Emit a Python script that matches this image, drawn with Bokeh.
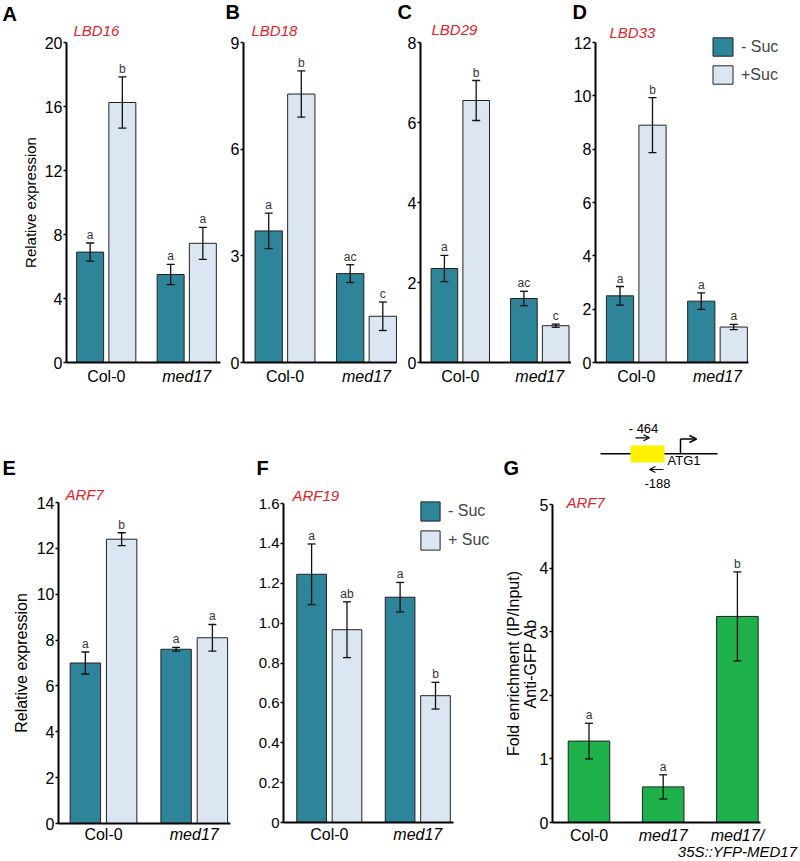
from bokeh.plotting import figure
from bokeh.layouts import row, column
from bokeh.models import (Range1d, FixedTicker, Label, Legend, LegendItem, Whisker,
                          ColumnDataSource, TeeHead, Arrow, OpenHead, PrintfTickFormatter)
from bokeh.embed import file_html
from bokeh.resources import INLINE
from bokeh.core.properties import value

FONT = "Liberation Sans"
DARK = "#2E8498"
LIGHT = "#DCE6F2"
GREEN = "#1DB04B"
RED = "#E3222B"
EDGE = "#222222"

genotypes = ["Col-0", "med17"]
genotypes_chip = ["Col-0", "med17", "med17/"]
chip_sub = "35S::YFP-MED17"
legend_labels_D = ["- Suc", "+Suc"]
legend_labels_F = ["- Suc", "+ Suc"]

# A  LBD16
lbd16_minus = [6.9, 5.5]
lbd16_minus_err = [0.57, 0.63]
lbd16_plus = [16.25, 7.45]
lbd16_plus_err = [1.6, 1.0]
lbd16_sig_minus = ["a", "a"]
lbd16_sig_plus = ["b", "a"]

# B  LBD18
lbd18_minus = [3.7, 2.5]
lbd18_minus_err = [0.5, 0.25]
lbd18_plus = [7.55, 1.3]
lbd18_plus_err = [0.65, 0.4]
lbd18_sig_minus = ["a", "ac"]
lbd18_sig_plus = ["b", "c"]

# C  LBD29
lbd29_minus = [2.35, 1.6]
lbd29_minus_err = [0.33, 0.18]
lbd29_plus = [6.55, 0.92]
lbd29_plus_err = [0.5, 0.04]
lbd29_sig_minus = ["a", "ac"]
lbd29_sig_plus = ["b", "c"]

# D  LBD33
lbd33_minus = [2.5, 2.3]
lbd33_minus_err = [0.35, 0.31]
lbd33_plus = [8.9, 1.33]
lbd33_plus_err = [1.03, 0.1]
lbd33_sig_minus = ["a", "a"]
lbd33_sig_plus = ["b", "a"]

# E  ARF7
arf7_minus = [7.0, 7.6]
arf7_minus_err = [0.48, 0.08]
arf7_plus = [12.4, 8.1]
arf7_plus_err = [0.28, 0.58]
arf7_sig_minus = ["a", "a"]
arf7_sig_plus = ["b", "a"]

# F  ARF19
arf19_minus = [1.245, 1.13]
arf19_minus_err = [0.152, 0.074]
arf19_plus = [0.967, 0.636]
arf19_plus_err = [0.14, 0.067]
arf19_sig_minus = ["a", "a"]
arf19_sig_plus = ["ab", "b"]

# G  ChIP ARF7
chip_vals = [1.28, 0.56, 3.24]
chip_err = [0.28, 0.19, 0.7]
chip_sig = ["a", "a", "b"]

ticks_A = [0, 4, 8, 12, 16, 20]
ticks_B = [0, 3, 6, 9]
ticks_C = [0, 2, 4, 6, 8]
ticks_D = [0, 2, 4, 6, 8, 10, 12]
ticks_E = [0, 2, 4, 6, 8, 10, 12, 14]
ticks_F = [0, 0.2, 0.4, 0.6, 0.8, 1.0, 1.2, 1.4, 1.6]
ticks_G = [0, 1, 2, 3, 4, 5]


class Panel:
    """A figure whose frame fills its canvas; axes are drawn at fixed locations."""

    def __init__(self, fx, fy, fw, fh, axis_px, axis_end_px, g0_px, pitch,
                 y0_px, ytop_px, ymax, yticks, ylabel=None, label_size="15px",
                 label_standoff=3, tick_size="16px", fmt=None, label_line_height=1.2):
        self.fx, self.fy, self.fw, self.fh = fx, fy, fw, fh
        ppu = (y0_px - ytop_px) / ymax
        xs = (fx - g0_px) / pitch
        xe = (fx + fw - g0_px) / pitch
        ys = -(fy + fh - y0_px) / ppu
        ye = ymax + (ytop_px - fy) / ppu
        p = figure(width=fw, height=fh, x_range=Range1d(xs, xe), y_range=Range1d(ys, ye),
                   toolbar_location=None, output_backend="svg", min_border=0)
        p.min_border_left = p.min_border_right = p.min_border_top = p.min_border_bottom = 0
        p.outline_line_color = None
        p.xgrid.visible = False
        p.ygrid.visible = False
        ax_x = (axis_px - g0_px) / pitch
        ax_end = (axis_end_px - g0_px) / pitch
        ya = p.yaxis[0]
        ya.fixed_location = ax_x
        ya.bounds = (0, ymax)
        ya.ticker = FixedTicker(ticks=yticks)
        if fmt:
            ya.formatter = PrintfTickFormatter(format=fmt)
        ya.axis_line_width = 2
        ya.axis_line_color = "black"
        ya.major_tick_out = 3
        ya.major_tick_in = 0
        ya.major_tick_line_width = 1.5
        ya.minor_tick_line_color = None
        ya.major_label_standoff = 1
        ya.major_label_text_font = FONT
        ya.major_label_text_font_size = tick_size
        ya.major_label_text_color = "black"
        ya.major_label_overrides = {0: "0"}
        if ylabel:
            ya.axis_label = ylabel
            ya.axis_label_text_font = FONT
            ya.axis_label_text_font_size = label_size
            ya.axis_label_text_font_style = "normal"
            ya.axis_label_text_color = "black"
            ya.axis_label_standoff = label_standoff
            ya.axis_label_text_line_height = label_line_height
        xa = p.xaxis[0]
        xa.fixed_location = 0
        xa.bounds = (ax_x, ax_end)
        xa.ticker = FixedTicker(ticks=[])
        xa.axis_line_width = 2
        xa.axis_line_color = "black"
        xa.major_tick_line_color = None
        xa.minor_tick_line_color = None
        xa.major_label_text_font_size = "0px"
        self.p = p

    def text(self, text, X, Y, size="16px", color="black", style="normal", align="left"):
        self.p.add_layout(Label(x=X - self.fx, y=self.fy + self.fh - Y, x_units="screen",
                                y_units="screen", text=text, text_font=FONT,
                                text_font_size=size, text_color=color, text_font_style=style,
                                text_align=align, text_baseline="middle"))

    def cat_text(self, text, i, Y, size="16px", style="normal"):
        self.p.add_layout(Label(x=i, y=self.fy + self.fh - Y, x_units="data", y_units="screen",
                                text=text, text_font=FONT, text_font_size=size,
                                text_color="black", text_font_style=style,
                                text_align="center", text_baseline="middle"))

    def err(self, xs, vals, errs, sigs):
        up = [v + e for v, e in zip(vals, errs)]
        lo = [v - e for v, e in zip(vals, errs)]
        src = ColumnDataSource(dict(x=xs, upper=up, lower=lo, sig=sigs))
        w = Whisker(source=src, base="x", upper="upper", lower="lower",
                    line_color="#111111", line_width=1.3, level="annotation",
                    upper_head=TeeHead(size=8, line_color="#111111", line_width=1.3),
                    lower_head=TeeHead(size=8, line_color="#111111", line_width=1.3))
        self.p.add_layout(w)
        self.p.text(x="x", y="upper", text="sig", source=src, text_align="center",
                    text_baseline="bottom", y_offset=-1, text_font=value(FONT),
                    text_font_size="12px", text_color="#333333")

    def expr_bars(self, minus, minus_err, plus, plus_err, sig_m, sig_p, label_y):
        xs_m = [i - 0.2 for i in range(len(genotypes))]
        xs_p = [i + 0.2 for i in range(len(genotypes))]
        self.r_m = self.p.vbar(x=xs_m, top=minus, width=0.335, fill_color=DARK,
                               line_color=EDGE, line_width=1)
        self.r_p = self.p.vbar(x=xs_p, top=plus, width=0.335, fill_color=LIGHT,
                               line_color=EDGE, line_width=1)
        self.err(xs_m, minus, minus_err, sig_m)
        self.err(xs_p, plus, plus_err, sig_p)
        for i, g in enumerate(genotypes):
            self.cat_text(g, i, label_y, style="italic" if g.startswith("med") else "normal")

    def legend(self, labels, X, Ybottom, gw, gh):
        leg = Legend(items=[LegendItem(label=labels[0], renderers=[self.r_m]),
                            LegendItem(label=labels[1], renderers=[self.r_p])],
                     location=(X - self.fx, self.fy + self.fh - Ybottom),
                     glyph_width=gw, glyph_height=gh, spacing=5, padding=0, margin=0,
                     border_line_color=None, background_fill_alpha=0,
                     label_text_font=FONT, label_text_font_size="16px", label_standoff=6)
        self.p.add_layout(leg)


# ---------------- top row (y 0..420) ----------------
A = Panel(0, 0, 223, 420, 66, 220, 105.75, 80.5, 362, 42, 20, ticks_A,
          ylabel="Relative expression", label_size="15px", label_standoff=3)
A.expr_bars(lbd16_minus, lbd16_minus_err, lbd16_plus, lbd16_plus_err,
            lbd16_sig_minus, lbd16_sig_plus, 376)
A.text("A", 2, 13, size="20px", style="bold")
A.text("LBD16", 73, 30, size="15px", color=RED, style="italic")

B = Panel(223, 0, 174, 420, 243, 396, 284.5, 81.5, 362, 42, 9, ticks_B)
B.expr_bars(lbd18_minus, lbd18_minus_err, lbd18_plus, lbd18_plus_err,
            lbd18_sig_minus, lbd18_sig_plus, 376)
B.text("B", 225, 11, size="20px", style="bold")
B.text("LBD18", 251, 30, size="15px", color=RED, style="italic")

C = Panel(397, 0, 174, 420, 420, 572, 459.8, 79.5, 362, 42, 8, ticks_C)
C.expr_bars(lbd29_minus, lbd29_minus_err, lbd29_plus, lbd29_plus_err,
            lbd29_sig_minus, lbd29_sig_plus, 376)
C.text("C", 397, 11, size="20px", style="bold")
C.text("LBD29", 431, 29, size="15px", color=RED, style="italic")

D = Panel(571, 0, 229, 420, 595, 748, 635.75, 81.25, 362, 42, 12, ticks_D)
D.expr_bars(lbd33_minus, lbd33_minus_err, lbd33_plus, lbd33_plus_err,
            lbd33_sig_minus, lbd33_sig_plus, 376)
D.text("D", 572, 11, size="20px", style="bold")
D.text("LBD33", 609, 32, size="15px", color=RED, style="italic")
D.legend(legend_labels_D, 710, 86, 25, 23)

# ---------------- bottom row (y 420..860) ----------------
E = Panel(0, 420, 250, 440, 58, 230, 103, 90.75, 823, 502, 14, ticks_E,
          ylabel="Relative expression", label_size="16px", label_standoff=4)
E.expr_bars(arf7_minus, arf7_minus_err, arf7_plus, arf7_plus_err,
            arf7_sig_minus, arf7_sig_plus, 834)
E.text("E", 2, 467, size="20px", style="bold")
E.text("ARF7", 65, 494, size="15px", color=RED, style="italic")

F = Panel(250, 420, 250, 440, 283, 453, 328.8, 88.5, 822, 503, 1.6, ticks_F,
          tick_size="15px", fmt="%.1f")
F.expr_bars(arf19_minus, arf19_minus_err, arf19_plus, arf19_plus_err,
            arf19_sig_minus, arf19_sig_plus, 834)
F.text("F", 256, 467, size="20px", style="bold")
F.text("ARF19", 292, 495, size="15px", color=RED, style="italic")
F.legend(legend_labels_F, 418, 552, 24, 24)

# G panel (ChIP), below the promoter schematic
G = Panel(500, 491, 300, 369, 552, 760, 588.5, 74.2, 822, 504, 5, ticks_G,
          ylabel="Fold enrichment (IP/Input)\nAnti-GFP Ab", label_size="16px",
          label_standoff=-2, label_line_height=1.0)
xs_g = list(range(len(genotypes_chip)))
G.p.vbar(x=xs_g, top=chip_vals, width=0.56, fill_color=GREEN, line_color=EDGE, line_width=1)
G.err(xs_g, chip_vals, chip_err, chip_sig)
for i, g in enumerate(genotypes_chip):
    G.cat_text(g, i, 835, style="normal" if g == "Col-0" else "italic")
G.cat_text(chip_sub, 2, 851, size="15px", style="italic")
G.text("ARF7", 566, 502, size="15px", color=RED, style="italic")

# promoter schematic (pixel-space drawing, x 500..800, y 420..491)
sch = figure(width=300, height=71, x_range=Range1d(0, 300), y_range=Range1d(0, 71),
             toolbar_location=None, output_backend="svg", x_axis_location=None,
             y_axis_location=None, min_border=0)
sch.outline_line_color = None
sch.grid.visible = False
sch.segment(x0=[100, 180], y0=[37.7, 37.7], x1=[217, 180], y1=[37.7, 52.5],
            line_color="black", line_width=1.5)
sch.quad(left=[130], right=[164], bottom=[29], top=[46], fill_color="#FFF200", line_color=None)
sch.add_layout(Arrow(end=OpenHead(size=6, line_width=1.2), x_start=135, y_start=53.7,
                     x_end=149, y_end=53.7, line_width=1.2))
sch.add_layout(Arrow(end=OpenHead(size=6, line_width=1.2), x_start=163, y_start=22,
                     x_end=149, y_end=22, line_width=1.2))
sch.add_layout(Arrow(end=OpenHead(size=7, line_width=1.5), x_start=180, y_start=52.5,
                     x_end=196, y_end=52.5, line_width=1.5))
sch.text(x=[143, 157, 183.5], y=[63, 8, 31], text=["- 464", "-188", "ATG1"],
         text_align="center", text_baseline="middle", text_font=value(FONT),
         text_font_size="13px", text_color="black")
sch.text(x=[3], y=[24], text=["G"], text_align="left", text_baseline="middle",
         text_font=value(FONT), text_font_size="20px", text_font_style="bold",
         text_color="black")

layout = column(row(A.p, B.p, C.p, D.p), row(E.p, F.p, column(sch, G.p)))

open("out.html", "w").write(file_html(layout, INLINE))
